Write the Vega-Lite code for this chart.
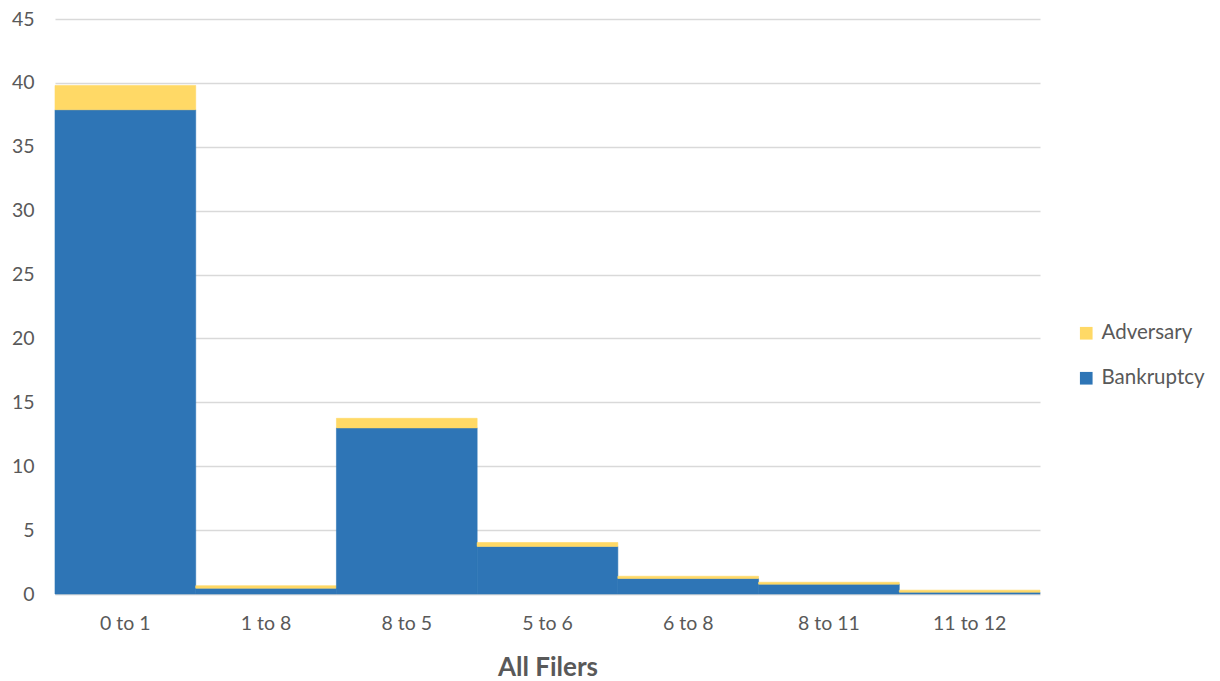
{
  "$schema": "https://vega.github.io/schema/vega-lite/v6.json",
  "autosize": {"type": "none"},
  "padding": {"left": 55, "top": 19, "right": 180, "bottom": 87},
  "width": 985,
  "height": 575,
  "background": "white",
  "config": {
    "view": {"stroke": null},
    "font": "Lato"
  },
  "data": {
    "values": [
      {"range": "0 to 1", "series": "Bankruptcy", "value": 37.9},
      {"range": "0 to 1", "series": "Adversary", "value": 1.9},
      {"range": "1 to 8", "series": "Bankruptcy", "value": 0.45},
      {"range": "1 to 8", "series": "Adversary", "value": 0.2},
      {"range": "8 to 5", "series": "Bankruptcy", "value": 13.0},
      {"range": "8 to 5", "series": "Adversary", "value": 0.75},
      {"range": "5 to 6", "series": "Bankruptcy", "value": 3.72},
      {"range": "5 to 6", "series": "Adversary", "value": 0.31},
      {"range": "6 to 8", "series": "Bankruptcy", "value": 1.21},
      {"range": "6 to 8", "series": "Adversary", "value": 0.18},
      {"range": "8 to 11", "series": "Bankruptcy", "value": 0.77},
      {"range": "8 to 11", "series": "Adversary", "value": 0.15},
      {"range": "11 to 12", "series": "Bankruptcy", "value": 0.14},
      {"range": "11 to 12", "series": "Adversary", "value": 0.16}
    ]
  },
  "mark": {"type": "bar", "strokeWidth": 0.6},
  "encoding": {
    "x": {
      "field": "range",
      "type": "nominal",
      "sort": null,
      "scale": {"paddingInner": 0, "paddingOuter": 0},
      "axis": {
        "title": "All Filers",
        "titleFontSize": 26,
        "titleFontWeight": "bold",
        "titleColor": "#595959",
        "titlePadding": 22,
        "labelAngle": 0,
        "labelFontSize": 19.5,
        "labelColor": "#595959",
        "labelPadding": 20,
        "ticks": false,
        "domainColor": "#d9d9d9",
        "domainWidth": 1.5
      }
    },
    "y": {
      "field": "value",
      "type": "quantitative",
      "stack": "zero",
      "scale": {"domain": [0, 45], "nice": false},
      "axis": {
        "title": null,
        "values": [0, 5, 10, 15, 20, 25, 30, 35, 40, 45],
        "labelFontSize": 19.5,
        "labelColor": "#595959",
        "labelPadding": 21,
        "ticks": false,
        "domain": false,
        "gridColor": "#d9d9d9",
        "gridWidth": 1.3
      }
    },
    "color": {
      "field": "series",
      "type": "nominal",
      "scale": {"domain": ["Adversary", "Bankruptcy"], "range": ["#FFD966", "#2E75B6"]},
      "legend": {
        "title": null,
        "orient": "none",
        "legendX": 1021,
        "legendY": 304,
        "symbolType": "square",
        "symbolSize": 160,
        "symbolStrokeWidth": 0,
        "labelFontSize": 20.5,
        "labelColor": "#595959",
        "rowPadding": 24,
        "labelOffset": 5
      }
    },
    "stroke": {
      "field": "series",
      "type": "nominal",
      "scale": {"domain": ["Adversary", "Bankruptcy"], "range": ["#FFD966", "#2E75B6"]},
      "legend": null
    },
    "order": {"field": "series", "sort": "descending"}
  }
}
